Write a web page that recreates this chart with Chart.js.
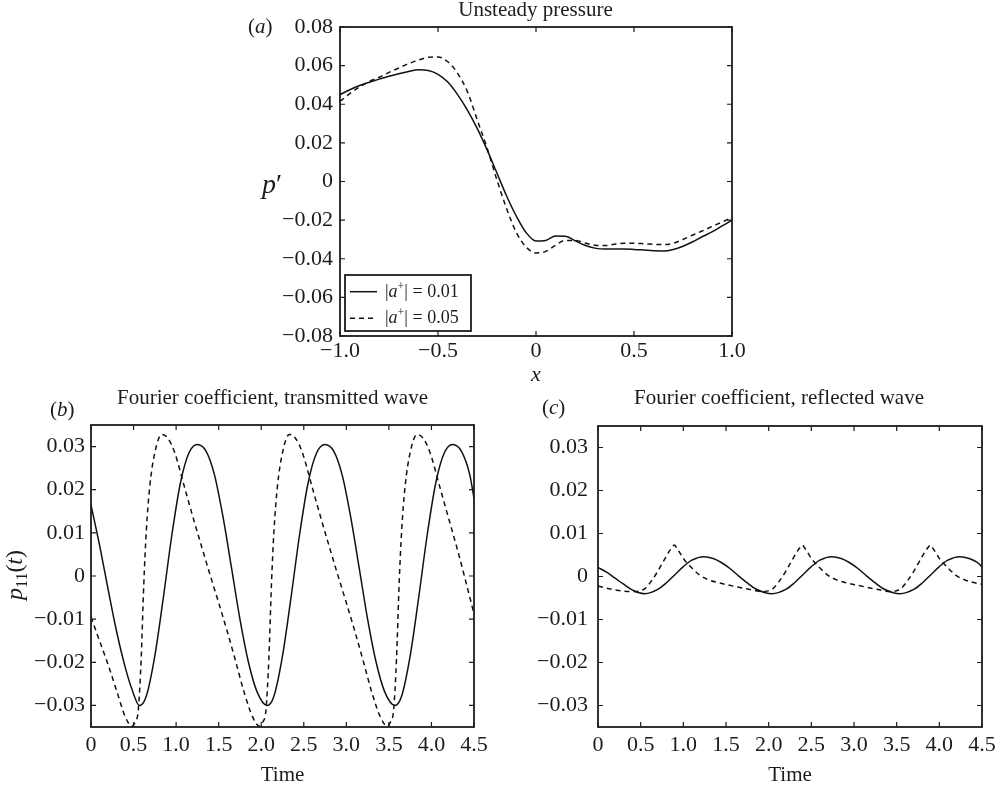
<!DOCTYPE html>
<html>
<head>
<meta charset="utf-8">
<title>Unsteady pressure and Fourier coefficients</title>
<script src="https://cdn.jsdelivr.net/npm/chart.js@4.4.1/dist/chart.umd.min.js"></script>
<style>
  html, body { margin: 0; padding: 0; background: #fff; }
  #page { position: relative; width: 1003px; height: 786px; overflow: hidden; }
  canvas { position: absolute; }
  #chartA { left: 240px; top: -10px; }
  #chartB { left: 0px; top: 375px; }
  #chartC { left: 520px; top: 375px; }
</style>
</head>
<body>
<div id="page">
  <canvas id="chartA" width="591" height="405"></canvas>
  <canvas id="chartB" width="545" height="415"></canvas>
  <canvas id="chartC" width="518" height="415"></canvas>
</div>
<script>
// (a) unsteady pressure along x
const aX = [-1.0, -0.95, -0.9, -0.85, -0.8, -0.75, -0.7, -0.65, -0.6, -0.55, -0.5, -0.45, -0.4, -0.35, -0.3, -0.25, -0.2, -0.15, -0.1, -0.05,
  0.0, 0.05, 0.1, 0.15, 0.2, 0.25, 0.3, 0.35, 0.4, 0.45, 0.5, 0.55, 0.6, 0.65, 0.7, 0.75, 0.8, 0.85, 0.9, 0.95, 1.0];
const aSolid = [0.0450, 0.0475, 0.0497, 0.0514, 0.0530, 0.0545, 0.0558, 0.0570, 0.0578, 0.0575, 0.0555, 0.0515, 0.0450, 0.0370, 0.0275, 0.0165, 0.0045, -0.0075, -0.0180, -0.0265,
  -0.0308, -0.0305, -0.0282, -0.0283, -0.0307, -0.0330, -0.0345, -0.0350, -0.0350, -0.0350, -0.0352, -0.0355, -0.0358, -0.0360, -0.0352, -0.0335, -0.0312, -0.0285, -0.0260, -0.0230, -0.0200];
const aDashed = [0.0415, 0.0455, 0.0490, 0.0518, 0.0540, 0.0565, 0.0588, 0.0610, 0.0628, 0.0643, 0.0645, 0.0620, 0.0560, 0.0465, 0.0320, 0.0175, 0.0010, -0.0140, -0.0265, -0.0340,
  -0.0370, -0.0362, -0.0330, -0.0305, -0.0305, -0.0318, -0.0330, -0.0332, -0.0325, -0.0320, -0.0320, -0.0322, -0.0325, -0.0327, -0.0320, -0.0300, -0.0277, -0.0255, -0.0232, -0.0210, -0.0186];
const aAmp = ['0.01', '0.05'];
const aXTicks = [-1, -0.5, 0, 0.5, 1];
const aXLabels = ['\u22121.0', '\u22120.5', '0', '0.5', '1.0'];
const aYTicks = [-0.08, -0.06, -0.04, -0.02, 0, 0.02, 0.04, 0.06, 0.08];
const aYLabels = ['\u22120.08', '\u22120.06', '\u22120.04', '\u22120.02', '0', '0.02', '0.04', '0.06', '0.08'];

// (b) transmitted wave coefficient over time
const bSolidT = [0, 0.1, 0.2, 0.3, 0.4, 0.48, 0.57, 0.65, 0.75, 0.85, 0.95, 1.05, 1.15, 1.25, 1.35, 1.45, 1.55, 1.65, 1.75, 1.85, 1.95,
  2.07, 2.15, 2.25, 2.35, 2.45, 2.55, 2.65, 2.75, 2.85, 2.95, 3.05, 3.15, 3.25, 3.35, 3.45,
  3.57, 3.65, 3.75, 3.85, 3.95, 4.05, 4.15, 4.25, 4.35, 4.45, 4.5];
const bSolidP = [0.0165, 0.0072, -0.0030, -0.0128, -0.0210, -0.0262, -0.0300, -0.0278, -0.0185, -0.0050, 0.0095, 0.0215, 0.0285, 0.0305, 0.0290, 0.0235, 0.0138, 0.0020, -0.0100, -0.0200, -0.0268,
  -0.0300, -0.0278, -0.0185, -0.0050, 0.0095, 0.0215, 0.0285, 0.0305, 0.0290, 0.0235, 0.0138, 0.0020, -0.0100, -0.0200, -0.0268,
  -0.0300, -0.0278, -0.0185, -0.0050, 0.0095, 0.0215, 0.0285, 0.0305, 0.0290, 0.0235, 0.0180];
const bDashT = [0, 0.1, 0.2, 0.3, 0.4, 0.48, 0.52, 0.555, 0.59, 0.62, 0.65, 0.69, 0.75, 0.83, 0.9, 0.98, 1.1, 1.2, 1.3, 1.4, 1.5, 1.6, 1.7, 1.8, 1.9,
  1.98, 2.02, 2.055, 2.09, 2.12, 2.15, 2.19, 2.25, 2.33, 2.4, 2.48, 2.6, 2.7, 2.8, 2.9, 3.0, 3.1, 3.2, 3.3, 3.4,
  3.48, 3.52, 3.555, 3.59, 3.62, 3.65, 3.69, 3.75, 3.83, 3.9, 3.98, 4.1, 4.2, 4.3, 4.4, 4.5];
const bDashP = [-0.0095, -0.0150, -0.0205, -0.0265, -0.0325, -0.0348, -0.0338, -0.0312, -0.0190, -0.0020, 0.0105, 0.0207, 0.0286, 0.0328, 0.0320, 0.0288, 0.0205, 0.0135, 0.0068, 0.0002, -0.0062, -0.0128, -0.0198, -0.0270, -0.0327,
  -0.0348, -0.0338, -0.0312, -0.0190, -0.0020, 0.0105, 0.0207, 0.0286, 0.0328, 0.0320, 0.0288, 0.0205, 0.0135, 0.0068, 0.0002, -0.0062, -0.0128, -0.0198, -0.0270, -0.0327,
  -0.0348, -0.0338, -0.0312, -0.0190, -0.0020, 0.0105, 0.0207, 0.0286, 0.0328, 0.0320, 0.0288, 0.0205, 0.0135, 0.0065, -0.0010, -0.0088];

// (c) reflected wave coefficient over time
const cSolidT = [0, 0.1, 0.2, 0.3, 0.4, 0.48, 0.55, 0.7, 0.8, 0.9, 1.0, 1.1, 1.24, 1.35, 1.45, 1.55, 1.65, 1.75, 1.85, 1.95,
  2.04, 2.2, 2.3, 2.4, 2.5, 2.6, 2.74, 2.85, 2.95, 3.05, 3.15, 3.25, 3.35, 3.45,
  3.54, 3.7, 3.8, 3.9, 4.0, 4.1, 4.24, 4.35, 4.45, 4.5];
const cSolidP = [0.0021, 0.0010, -0.0004, -0.0018, -0.0031, -0.0038, -0.0040, -0.0030, -0.0015, 0.0004, 0.0023, 0.0038, 0.0046, 0.0042, 0.0032, 0.0018, 0.0001, -0.0015, -0.0029, -0.0037,
  -0.0040, -0.0030, -0.0015, 0.0004, 0.0023, 0.0038, 0.0046, 0.0042, 0.0032, 0.0018, 0.0001, -0.0015, -0.0029, -0.0037,
  -0.0040, -0.0030, -0.0015, 0.0004, 0.0023, 0.0038, 0.0046, 0.0042, 0.0032, 0.0022];
const cDashT = [0, 0.1, 0.2, 0.3, 0.4, 0.48, 0.55, 0.62, 0.7, 0.78, 0.84, 0.87, 0.895, 0.92, 0.96, 1.0, 1.08, 1.2, 1.3, 1.4, 1.53, 1.65, 1.75, 1.85, 1.92,
  1.98, 2.05, 2.12, 2.2, 2.28, 2.34, 2.37, 2.395, 2.42, 2.46, 2.5, 2.58, 2.7, 2.8, 2.9, 3.03, 3.15, 3.25, 3.35, 3.42,
  3.48, 3.55, 3.62, 3.7, 3.78, 3.84, 3.87, 3.895, 3.92, 3.96, 4.0, 4.08, 4.2, 4.3, 4.4, 4.5];
const cDashP = [-0.0022, -0.0027, -0.0031, -0.0034, -0.0035, -0.0034, -0.0028, -0.0012, 0.0012, 0.0040, 0.0060, 0.0068, 0.0073, 0.0067, 0.0055, 0.0042, 0.0024, 0.0002, -0.0008, -0.0014, -0.0020, -0.0025, -0.0029, -0.0033, -0.0035,
  -0.0034, -0.0028, -0.0012, 0.0012, 0.0040, 0.0060, 0.0068, 0.0073, 0.0067, 0.0055, 0.0042, 0.0024, 0.0002, -0.0008, -0.0014, -0.0020, -0.0025, -0.0029, -0.0033, -0.0035,
  -0.0034, -0.0028, -0.0012, 0.0012, 0.0040, 0.0060, 0.0068, 0.0073, 0.0067, 0.0055, 0.0042, 0.0024, 0.0002, -0.0008, -0.0014, -0.0018];

const tXTicks = [0, 0.5, 1, 1.5, 2, 2.5, 3, 3.5, 4, 4.5];
const tXLabels = ['0', '0.5', '1.0', '1.5', '2.0', '2.5', '3.0', '3.5', '4.0', '4.5'];
const tYTicks = [-0.03, -0.02, -0.01, 0, 0.01, 0.02, 0.03];
const tYLabels = ['\u22120.03', '\u22120.02', '\u22120.01', '0', '0.01', '0.02', '0.03'];

const INK = '#1c1c1c';
const SERIF = '"Liberation Serif", "Times New Roman", Times, serif';
const f = (size, italic) => (italic ? 'italic ' : '') + size + 'px ' + SERIF;

function richText(ctx, parts, x, y, align) {
  let w = 0;
  for (const p of parts) { ctx.font = p.font; w += ctx.measureText(p.text).width; }
  let cx = align === 'center' ? x - w / 2 : x;
  for (const p of parts) {
    ctx.font = p.font;
    ctx.fillText(p.text, cx, y + (p.dy || 0));
    cx += ctx.measureText(p.text).width;
  }
}

// frame with inward ticks on all four sides, plus the free labels
function boxAxes(texts) {
  return {
    id: 'boxAxes',
    afterDatasetsDraw(chart) {
      const { ctx, chartArea: { left, top, right, bottom }, scales: { x, y } } = chart;
      const len = 5;
      ctx.save();
      ctx.strokeStyle = INK;
      ctx.lineWidth = 1.2;
      ctx.beginPath();
      x.ticks.forEach(t => {
        const px = x.getPixelForValue(t.value);
        ctx.moveTo(px, bottom); ctx.lineTo(px, bottom - len);
        ctx.moveTo(px, top); ctx.lineTo(px, top + len);
      });
      y.ticks.forEach(t => {
        const py = y.getPixelForValue(t.value);
        ctx.moveTo(left, py); ctx.lineTo(left + len, py);
        ctx.moveTo(right, py); ctx.lineTo(right - len, py);
      });
      ctx.stroke();
      ctx.lineWidth = 1.8;
      ctx.strokeRect(left, top, right - left, bottom - top);

      ctx.fillStyle = INK;
      ctx.textBaseline = 'alphabetic';
      ctx.textAlign = 'left';
      texts.forEach(item => {
        ctx.save();
        ctx.translate(item.x, item.y);
        if (item.rotate) ctx.rotate(item.rotate);
        richText(ctx, item.parts, 0, 0, item.align);
        ctx.restore();
      });
      ctx.restore();
    }
  };
}

// boxed legend in the lower left corner of panel (a)
const boxLegend = {
  id: 'boxLegend',
  afterDraw(chart) {
    const { ctx, chartArea } = chart;
    const w = 126, h = 56;
    const x0 = chartArea.left + 5, y0 = chartArea.bottom - 5 - h;
    const rows = [16.7, 43.3];
    ctx.save();
    ctx.fillStyle = '#fff';
    ctx.fillRect(x0, y0, w, h);
    ctx.strokeStyle = INK;
    ctx.lineWidth = 1.8;
    ctx.strokeRect(x0, y0, w, h);
    chart.data.datasets.forEach((ds, i) => {
      const ly = y0 + rows[i];
      ctx.strokeStyle = ds.borderColor;
      ctx.lineWidth = ds.borderWidth;
      ctx.setLineDash(ds.borderDash || []);
      ctx.beginPath();
      ctx.moveTo(x0 + 5, ly);
      ctx.lineTo(x0 + 32, ly);
      ctx.stroke();
      ctx.setLineDash([]);
      ctx.fillStyle = INK;
      ctx.textBaseline = 'alphabetic';
      ctx.textAlign = 'left';
      richText(ctx, [
        { text: '|', font: f(18) },
        { text: 'a', font: f(18, true) },
        { text: '+', font: f(12), dy: -7 },
        { text: '| = ' + aAmp[i], font: f(18) }
      ], x0 + 40, ly + 5);
    });
    ctx.restore();
  }
};

const line = (xs, ys, label, dash) => ({
  label,
  data: xs.map((x, i) => ({ x, y: ys[i] })),
  borderColor: '#111',
  borderWidth: 1.5,
  borderDash: dash,
  pointRadius: 0,
  cubicInterpolationMode: 'monotone',
  fill: false
});

// an empty right-hand axis of width rightGap keeps the title centred on the whole canvas
function panel(id, cfg) {
  const tickFont = { family: SERIF, size: 22 };
  return new Chart(document.getElementById(id), {
    type: 'line',
    data: { datasets: cfg.datasets },
    plugins: cfg.plugins,
    options: {
      responsive: false,
      animation: false,
      devicePixelRatio: 1,
      layout: { padding: 0 },
      plugins: {
        legend: { display: false },
        tooltip: { enabled: false },
        title: {
          display: true,
          text: cfg.title,
          color: INK,
          font: { family: SERIF, size: 21, weight: 'normal' },
          padding: cfg.titlePad
        }
      },
      scales: {
        x: {
          type: 'linear',
          min: cfg.xMin,
          max: cfg.xMax,
          grid: { display: false, drawTicks: false },
          border: { display: false },
          afterBuildTicks: s => { s.ticks = cfg.xTicks.map(v => ({ value: v })); },
          afterFit: s => { s.height = cfg.xHeight; },
          ticks: {
            autoSkip: false,
            maxRotation: 0,
            padding: cfg.xPad,
            color: INK,
            font: tickFont,
            callback: (v, i) => cfg.xLabels[i]
          },
          title: {
            display: true,
            text: cfg.xTitle,
            color: INK,
            font: cfg.xTitleFont,
            padding: { top: 0, bottom: cfg.xTitlePad }
          }
        },
        y: {
          type: 'linear',
          min: cfg.yMin,
          max: cfg.yMax,
          grid: { display: false, drawTicks: false },
          border: { display: false },
          afterBuildTicks: s => { s.ticks = cfg.yTicks.map(v => ({ value: v })); },
          afterFit: s => { s.width = cfg.yWidth; },
          ticks: {
            autoSkip: false,
            padding: cfg.yPad,
            color: INK,
            font: tickFont,
            callback: (v, i) => cfg.yLabels[i]
          }
        },
        gap: {
          type: 'linear',
          position: 'right',
          grid: { display: false, drawTicks: false },
          border: { display: false },
          ticks: { display: false },
          afterFit: s => { s.width = cfg.rightGap; }
        }
      }
    }
  });
}

panel('chartA', {
  title: 'Unsteady pressure',
  titlePad: { top: 8.3, bottom: 3.5 },
  datasets: [
    line(aX, aSolid, '|a+| = ' + aAmp[0], []),
    line(aX, aDashed, '|a+| = ' + aAmp[1], [5, 4])
  ],
  plugins: [boxAxes([
    { x: 8, y: 43, parts: [{ text: '(', font: f(21) }, { text: 'a', font: f(21, true) }, { text: ')', font: f(21) }] },
    { x: 32, y: 203, align: 'center', parts: [{ text: 'p', font: f(28, true) }, { text: '\u2032', font: f(28) }] }
  ]), boxLegend],
  rightGap: 99,
  xMin: -1, xMax: 1, xTicks: aXTicks, xLabels: aXLabels, xHeight: 59, xPad: 2.5,
  xTitle: 'x', xTitleFont: { family: SERIF, size: 22, style: 'italic' }, xTitlePad: 6.2,
  yMin: -0.08, yMax: 0.08, yTicks: aYTicks, yLabels: aYLabels, yWidth: 100, yPad: 7
});

panel('chartB', {
  title: 'Fourier coefficient, transmitted wave',
  titlePad: { top: 11, bottom: 13.8 },
  datasets: [
    line(bSolidT, bSolidP, '|a+| = ' + aAmp[0], []),
    line(bDashT, bDashP, '|a+| = ' + aAmp[1], [5, 4])
  ],
  plugins: [boxAxes([
    { x: 50, y: 41, parts: [{ text: '(', font: f(21) }, { text: 'b', font: f(21, true) }, { text: ')', font: f(21) }] },
    { x: 22, y: 200, rotate: -Math.PI / 2, align: 'center', parts: [
      { text: 'p', font: f(24, true) },
      { text: '11', font: f(16), dy: 5 },
      { text: '(', font: f(24) },
      { text: 't', font: f(24, true) },
      { text: ')', font: f(24) }
    ] }
  ])],
  rightGap: 71,
  xMin: 0, xMax: 4.5, xTicks: tXTicks, xLabels: tXLabels, xHeight: 63, xPad: 5,
  xTitle: 'Time', xTitleFont: { family: SERIF, size: 21 }, xTitlePad: 2.4,
  yMin: -0.035, yMax: 0.035, yTicks: tYTicks, yLabels: tYLabels, yWidth: 91, yPad: 6
});

panel('chartC', {
  title: 'Fourier coefficient, reflected wave',
  titlePad: { top: 11, bottom: 14.8 },
  datasets: [
    line(cSolidT, cSolidP, '|a+| = ' + aAmp[0], []),
    line(cDashT, cDashP, '|a+| = ' + aAmp[1], [5, 4])
  ],
  plugins: [boxAxes([
    { x: 22, y: 39, parts: [{ text: '(', font: f(21) }, { text: 'c', font: f(21, true) }, { text: ')', font: f(21) }] }
  ])],
  rightGap: 56,
  xMin: 0, xMax: 4.5, xTicks: tXTicks, xLabels: tXLabels, xHeight: 63, xPad: 5,
  xTitle: 'Time', xTitleFont: { family: SERIF, size: 21 }, xTitlePad: 2.4,
  yMin: -0.035, yMax: 0.035, yTicks: tYTicks, yLabels: tYLabels, yWidth: 78, yPad: 10
});
</script>
</body>
</html>
